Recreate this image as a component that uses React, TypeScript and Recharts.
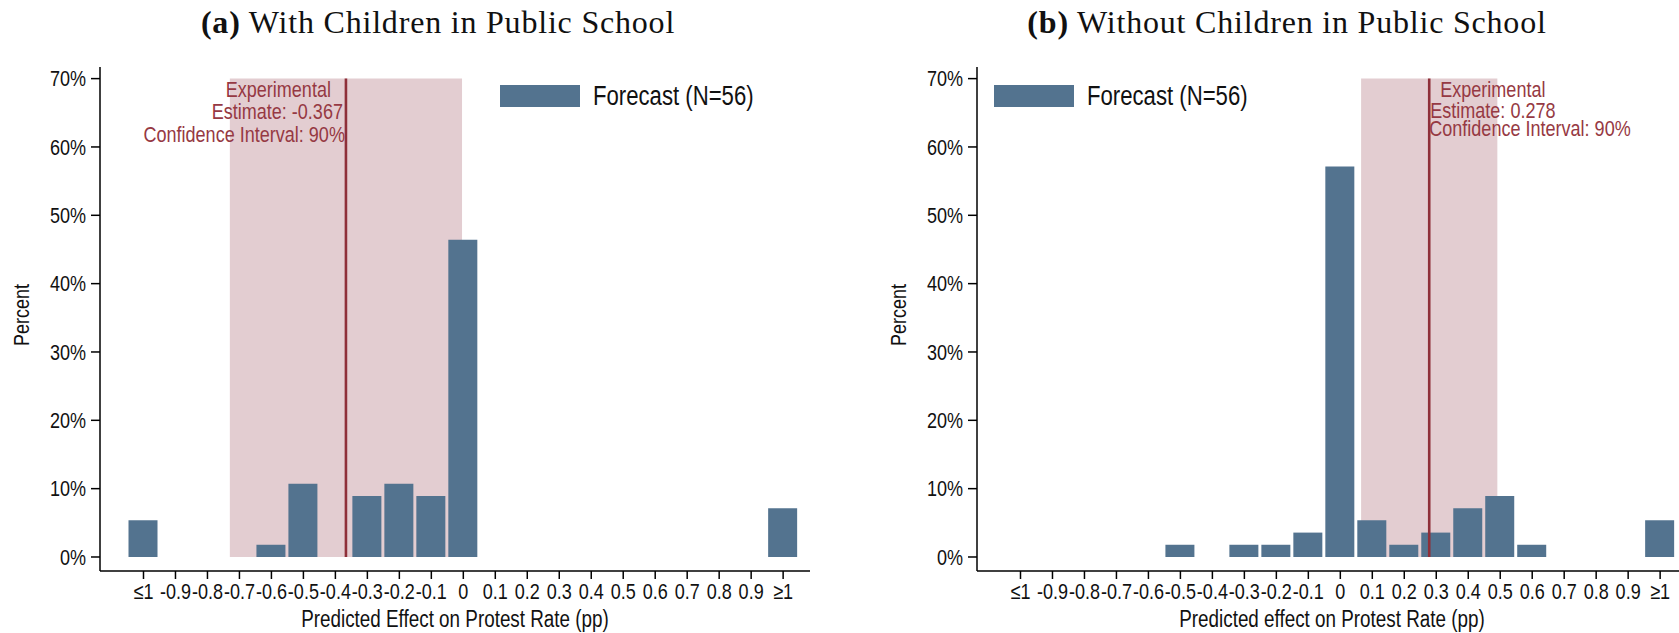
import React from 'react';
import {
  BarChart,
  Bar,
  XAxis,
  YAxis,
  ReferenceArea,
  ReferenceLine,
  Legend,
} from 'recharts';

// Histogram bins (pp), shown with the outer bins collapsed into ≤1 / ≥1
const binCenters = [-1, -0.9, -0.8, -0.7, -0.6, -0.5, -0.4, -0.3, -0.2, -0.1, 0, 0.1, 0.2, 0.3, 0.4, 0.5, 0.6, 0.7, 0.8, 0.9, 1];
const tickLabels = ['≤1', '-0.9', '-0.8', '-0.7', '-0.6', '-0.5', '-0.4', '-0.3', '-0.2', '-0.1', '0', '0.1', '0.2', '0.3', '0.4', '0.5', '0.6', '0.7', '0.8', '0.9', '≥1'];
const percentTicks = [0, 10, 20, 30, 40, 50, 60, 70];

// Share of forecasts (N=56) per bin, in percent
const pctWithChildren = [5.36, 0, 0, 0, 1.79, 10.71, 0, 8.93, 10.71, 8.93, 46.43, 0, 0, 0, 0, 0, 0, 0, 0, 0, 7.14];
const pctWithoutChildren = [0, 0, 0, 0, 0, 1.79, 0, 1.79, 1.79, 3.57, 57.14, 5.36, 1.79, 3.57, 7.14, 8.93, 1.79, 0, 0, 0, 5.36];

// Experimental estimates and their 90% confidence intervals
const estimateWith = -0.367;
const ciWith = [-0.73, -0.004];
const estimateWithout = 0.278;
const ciWithout = [0.065, 0.491];

const BAR = '#53738f';
const SHADE = '#e3cdd1';
const RED = '#8e2f39';
const RED_TEXT = '#963943';
const SANS = "'Liberation Sans', Arial, sans-serif";
const SERIF = "'Liberation Serif', 'Times New Roman', serif";
const SQUEEZE = 0.82; // horizontal compression for the narrow sans look

const W = 840;
const H = 633;

type NarrowProps = {
  x: number;
  y: number;
  anchor?: 'start' | 'middle' | 'end';
  size: number;
  fill?: string;
  rotate?: number;
  children: React.ReactNode;
};

// Sans text squeezed horizontally around its anchor point
const NarrowText = ({ x, y, anchor = 'middle', size, fill = '#111', rotate = 0, children }: NarrowProps) => (
  <g transform={`translate(${x},${y}) rotate(${rotate}) scale(${SQUEEZE},1)`}>
    <text x={0} y={0} textAnchor={anchor} dominantBaseline="central" fontFamily={SANS} fontSize={size} fill={fill}>
      {children}
    </text>
  </g>
);

const XTick = (props: any) => {
  const { x, y, payload } = props;
  const i = binCenters.indexOf(payload.value);
  return (
    <NarrowText x={x} y={y + 12} size={22}>
      {tickLabels[i]}
    </NarrowText>
  );
};

const YTick = (props: any) => {
  const { x, y, payload } = props;
  return (
    <NarrowText x={x} y={y} anchor="end" size={22}>
      {`${payload.value}%`}
    </NarrowText>
  );
};

const XTitle = ({ viewBox, text }: any) => {
  if (!viewBox) return null;
  return (
    <NarrowText x={viewBox.x + viewBox.width / 2} y={viewBox.y + 48} size={23}>
      {text}
    </NarrowText>
  );
};

const YTitle = ({ viewBox }: any) => {
  if (!viewBox) return null;
  return (
    <NarrowText x={viewBox.x + 21} y={viewBox.y + viewBox.height / 2 - 4} size={22} rotate={-90}>
      Percent
    </NarrowText>
  );
};

type AnnoProps = {
  viewBox?: { x: number; y: number; width: number; height: number };
  lines: { text: string; dx: number; dy: number }[];
  anchor: 'start' | 'end';
};

const Annotation = ({ viewBox, lines, anchor }: AnnoProps) => {
  if (!viewBox) return null;
  return (
    <g>
      {lines.map((l, i) => (
        <NarrowText key={i} x={viewBox.x + l.dx} y={viewBox.y + l.dy} anchor={anchor} size={22} fill={RED_TEXT}>
          {l.text}
        </NarrowText>
      ))}
    </g>
  );
};

const LegendBox = () => (
  <div style={{ display: 'flex', alignItems: 'center', whiteSpace: 'nowrap' }}>
    <div style={{ width: 80, height: 22, background: BAR, flex: 'none' }} />
    <span
      style={{
        marginLeft: 13,
        fontFamily: SANS,
        fontSize: 27,
        lineHeight: '30px',
        color: '#111',
        display: 'inline-block',
        transform: `scaleX(${SQUEEZE})`,
        transformOrigin: 'left center',
      }}
    >
      Forecast (N=56)
    </span>
  </div>
);

type PanelProps = {
  values: number[];
  estimate: number;
  ci: number[];
  xTitle: string;
  legendLeft: number;
  annoLines: { text: string; dx: number; dy: number }[];
  annoAnchor: 'start' | 'end';
};

const Panel = ({ values, estimate, ci, xTitle, legendLeft, annoLines, annoAnchor }: PanelProps) => {
  const data = binCenters.map((x, i) => ({ x, pct: values[i] }));
  return (
    <BarChart width={W} height={H} data={data} margin={{ top: 67, right: 30, left: 0, bottom: 0 }}>
      <ReferenceArea x1={ci[0]} x2={ci[1]} y1={0} y2={70} fill={SHADE} fillOpacity={1} stroke="none" />
      <XAxis
        dataKey="x"
        type="number"
        domain={[-1.136, 1.084]}
        ticks={binCenters}
        interval={0}
        height={62}
        tickSize={8}
        tickMargin={0}
        stroke="#000"
        strokeWidth={1.5}
        tick={<XTick />}
        label={<XTitle text={xTitle} />}
      />
      <YAxis
        type="number"
        domain={[-2.05, 71.7]}
        ticks={percentTicks}
        interval={0}
        width={100}
        tickSize={9}
        tickMargin={5}
        stroke="#000"
        strokeWidth={1.5}
        tick={<YTick />}
        label={<YTitle />}
      />
      <Bar dataKey="pct" fill={BAR} barSize={29} isAnimationActive={false} />
      <ReferenceLine
        segment={[{ x: estimate, y: 0 }, { x: estimate, y: 70 }]}
        stroke={RED}
        strokeWidth={2.6}
        label={<Annotation lines={annoLines} anchor={annoAnchor} />}
      />
      <Legend
        content={<LegendBox />}
        layout="horizontal"
        verticalAlign="middle"
        wrapperStyle={{ position: 'absolute', left: legendLeft, top: 81, width: 'auto', height: 'auto' }}
      />
    </BarChart>
  );
};

const Title = ({ tag, text, center }: { tag: string; text: string; center: number }) => (
  <div
    style={{
      position: 'absolute',
      left: center - 400,
      width: 800,
      top: 2,
      textAlign: 'center',
      fontFamily: SERIF,
      fontSize: 32,
      letterSpacing: 0.8,
      color: '#111',
      lineHeight: '40px',
    }}
  >
    <span style={{ fontWeight: 'bold' }}>{tag}</span> {text}
  </div>
);

export default function App() {
  return (
    <div
      style={{
        position: 'absolute',
        left: 0,
        top: 0,
        width: 1679,
        height: 633,
        overflow: 'hidden',
        background: '#fff',
      }}
    >
      <Title tag="(a)" text="With Children in Public School" center={438} />
      <Title tag="(b)" text="Without Children in Public School" center={1287} />
      <div style={{ position: 'absolute', left: 0, top: 0 }}>
        <Panel
          values={pctWithChildren}
          estimate={estimateWith}
          ci={ciWith}
          xTitle="Predicted Effect on Protest Rate (pp)"
          legendLeft={500}
          annoAnchor="end"
          annoLines={[
            { text: 'Experimental', dx: -15, dy: 11 },
            { text: 'Estimate: -0.367', dx: -3, dy: 33 },
            { text: 'Confidence Interval: 90%', dx: -1, dy: 56 },
          ]}
        />
      </div>
      <div style={{ position: 'absolute', left: 877, top: 0 }}>
        <Panel
          values={pctWithoutChildren}
          estimate={estimateWithout}
          ci={ciWithout}
          xTitle="Predicted effect on Protest Rate (pp)"
          legendLeft={117}
          annoAnchor="start"
          annoLines={[
            { text: 'Experimental', dx: 11, dy: 11 },
            { text: 'Estimate: 0.278', dx: 1, dy: 32 },
            { text: 'Confidence Interval: 90%', dx: 0, dy: 50 },
          ]}
        />
      </div>
    </div>
  );
}
